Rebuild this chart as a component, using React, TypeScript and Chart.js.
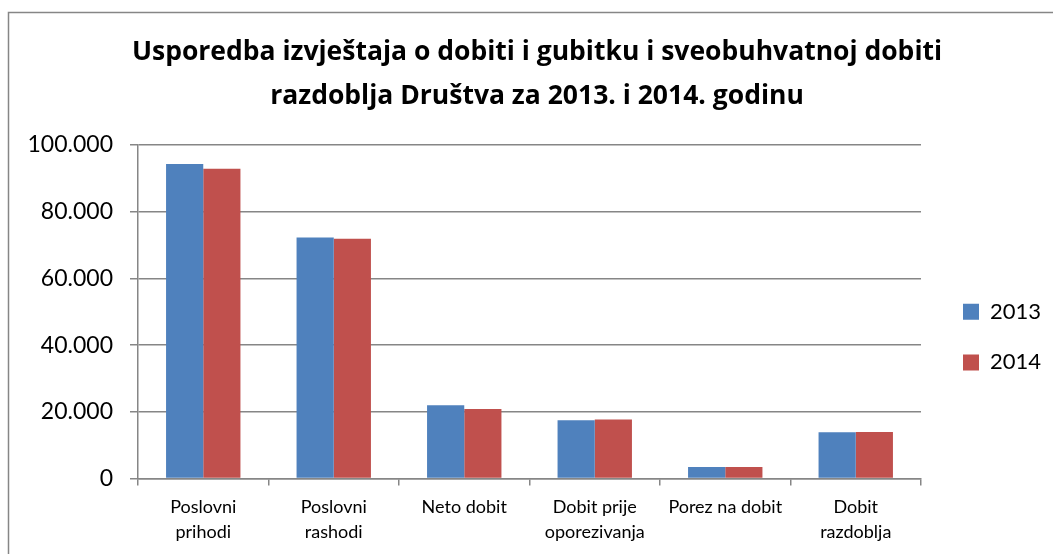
import React, { useEffect, useRef } from "react";
import { Chart, registerables } from "chart.js";

Chart.register(...registerables);

const categories: (string | string[])[] = [
  ["Poslovni", "prihodi"],
  ["Poslovni", "rashodi"],
  "Neto dobit",
  ["Dobit prije", "oporezivanja"],
  "Porez na dobit",
  ["Dobit", "razdoblja"],
];
const seriesNames = ["2013", "2014"];
const values2013 = [94300, 72300, 22000, 17500, 3500, 13900];
const values2014 = [92900, 71900, 20900, 17700, 3500, 14000];
const titleLines = [
  "Usporedba izvještaja o dobiti i gubitku i sveobuhvatnoj dobiti",
  "razdoblja Društva za 2013. i 2014. godinu",
];
const yMin = 0;
const yMax = 100000;
const yStep = 20000;

const fmt = (v: number) => String(v).replace(/\B(?=(\d{3})+(?!\d))/g, ".");

const LEGEND_X = 963;
const LEGEND_FIRST_Y = 314;
const TITLE_CENTER_X = 537;

const framePlugin = {
  id: "frame",
  beforeDraw(chart: any) {
    const ctx = chart.ctx;
    ctx.save();
    ctx.fillStyle = "#ffffff";
    ctx.fillRect(0, 0, chart.width, chart.height);
    ctx.strokeStyle = "#868686";
    ctx.lineWidth = 1.5;
    ctx.strokeRect(8.5, 12.5, 1200, 700);
    ctx.restore();
  },
};

const placeBoxes = {
  id: "placeBoxes",
  afterLayout(chart: any) {
    const t = chart.titleBlock;
    if (t) {
      const dx = TITLE_CENTER_X - (t.left + t.right) / 2;
      t.left += dx;
      t.right += dx;
    }
    const lg = chart.legend;
    if (!lg || !lg.columnSizes || !lg.columnSizes.length) return;
    const pad = lg.options.labels.padding;
    const itemH = lg._itemHeight || 26.4;
    const h = lg.bottom - lg.top;
    const colH = lg.columnSizes[0].height;
    const cursorY = LEGEND_FIRST_Y - itemH / 2;
    const top = (2 * cursorY - pad - h + colH) / 2;
    lg.top = top;
    lg.bottom = top + h;
    lg.left = LEGEND_X - pad;
    lg.right = chart.width;
    lg.width = lg.right - lg.left;
  },
};

export default function App() {
  const ref = useRef<HTMLCanvasElement | null>(null);
  useEffect(() => {
    if (!ref.current) return;
    const chart = new Chart(ref.current, {
      type: "bar",
      data: {
        labels: categories,
        datasets: [
          {
            label: seriesNames[0],
            data: values2013,
            backgroundColor: "#4F81BD",
            categoryPercentage: 0.57,
            barPercentage: 1.0,
          },
          {
            label: seriesNames[1],
            data: values2014,
            backgroundColor: "#C0504D",
            categoryPercentage: 0.57,
            barPercentage: 1.0,
          },
        ],
      },
      options: {
        responsive: false,
        animation: false,
        layout: { padding: { left: 24, right: 32, top: 12, bottom: 0 } },
        plugins: {
          title: {
            display: true,
            text: titleLines,
            color: "#000",
            font: { family: "Open Sans", weight: "bold", size: 26.5, lineHeight: 1.68 },
            padding: { top: 18, bottom: 26 },
          },
          legend: {
            position: "right",
            maxWidth: 100,
            labels: {
              color: "#000",
              boxWidth: 16,
              boxHeight: 16,
              padding: 28.6,
              font: { family: "Lato", size: 22, lineHeight: 1.2 },
            },
          },
          tooltip: { enabled: false },
        },
        scales: {
          x: {
            grid: {
              display: true,
              drawOnChartArea: false,
              drawTicks: true,
              tickLength: 7,
              offset: true,
              color: "#868686",
              lineWidth: 1.5,
            },
            border: { color: "#868686", width: 1.5 },
            ticks: {
              color: "#000",
              padding: 9,
              maxRotation: 0,
              autoSkip: false,
              font: { family: "Lato", size: 18, lineHeight: 1.4 },
            },
          },
          y: {
            min: yMin,
            max: yMax,
            afterFit(s: any) {
              s.width = 114;
            },
            grid: {
              color: "#868686",
              lineWidth: 1.5,
              tickLength: 8,
            },
            border: { color: "#868686", width: 1.5 },
            ticks: {
              stepSize: yStep,
              color: "#000",
              padding: 17,
              font: { family: "Lato", size: 23 },
              callback: (v: any) => fmt(Number(v)),
            },
          },
        },
      },
      plugins: [framePlugin, placeBoxes],
    });
    return () => chart.destroy();
  }, []);
  return (
    <div style={{ position: "fixed", left: 0, top: 0, width: 1053, height: 554, overflow: "hidden" }}>
      <canvas ref={ref} width={1053} height={554} style={{ width: 1053, height: 554 }} />
    </div>
  );
}
